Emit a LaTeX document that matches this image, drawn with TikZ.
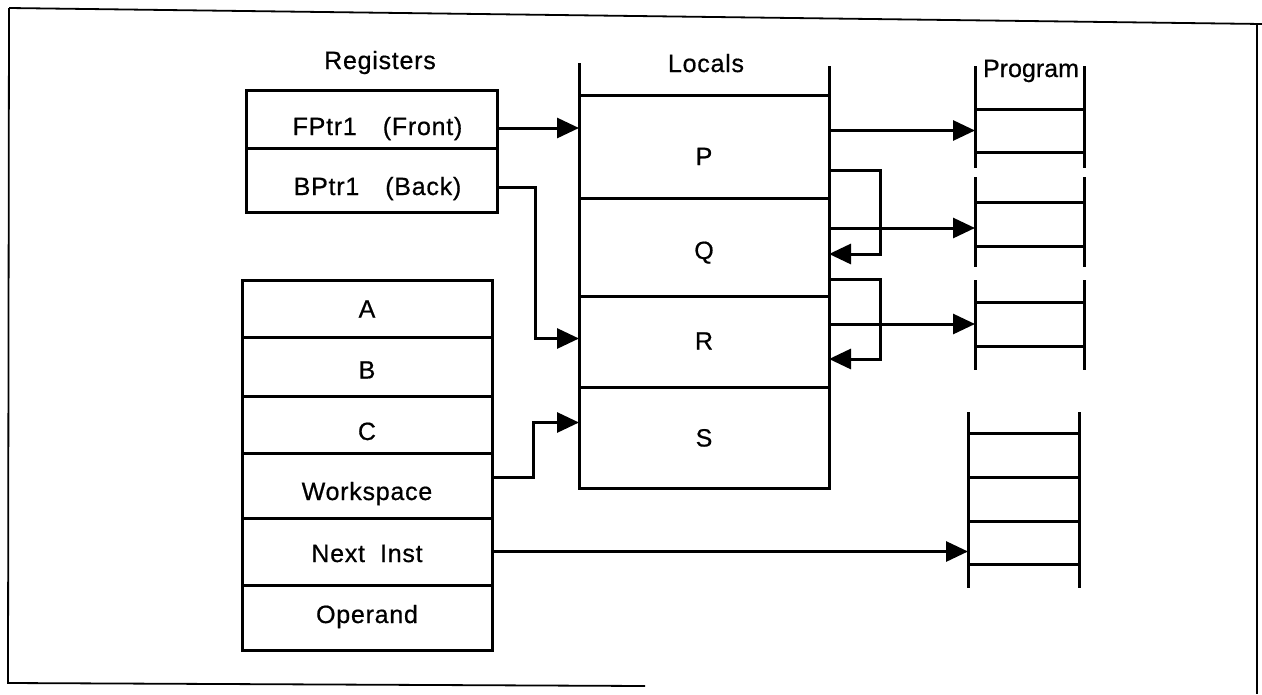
\documentclass[tikz,border=0pt]{standalone}
\usepackage{fontspec}
\setmainfont[FakeBold=0.6,LetterSpace=3]{Liberation Sans}
\usetikzlibrary{arrows.meta}
\begin{document}
\begin{tikzpicture}[x=1pt,y=-1pt,
  every node/.style={inner sep=0pt,outer sep=0pt,font=\fontsize{25}{29}\selectfont},
  cell/.style={draw,line width=3pt,minimum width=#1,text depth=0pt},
  ln/.style={line width=3pt},
  frameln/.style={line width=1.8pt},
  arr/.style={line width=3pt,-{Triangle[length=22pt,width=20pt]}}]
\useasboundingbox (0,0) rectangle (1262,694);
% frame
\draw[frameln] (9,8) -- (1262,24);
\draw[frameln] (9,8) -- (8,683) -- (645,686);
\draw[frameln] (1257,23) -- (1257,694);
% titles
\node[anchor=base] (reglbl) at (380,69) {Registers};
\node[anchor=base] (loclbl) at (706,72) {Locals};
\node[anchor=base,font=\fontsize{25}{29}\selectfont\addfontfeature{LetterSpace=0}] (proglbl) at (1031,77) {Program};
% registers
\node[cell=251,minimum height=58,text height=32pt] (fptr) at (371.5,119) {\hspace*{12pt}FPtr1\hspace{26pt}(Front)};
\node[cell=251,minimum height=64,text height=30pt] (bptr) at (371.5,180) {\hspace*{12pt}BPtr1\hspace{26pt}(Back)};
% lower stack
\node[cell=250,minimum height=57,text height=18pt] (ca) at (367,308.5) {A};
\node[cell=250,minimum height=59,text height=24pt] (cb) at (367,366.5) {B};
\node[cell=250,minimum height=57,text height=31pt] (cc) at (367,424.5) {C};
\node[cell=250,minimum height=65,text height=29pt] (ws) at (367,485.5) {Workspace};
\node[cell=250,minimum height=67,text height=21pt] (ni) at (367,551.5) {Next\hspace{15pt}Inst};
\node[cell=250,minimum height=65,text height=11pt] (op) at (367,617.5) {Operand};
% locals
\node[cell=250,minimum height=103,text height=37pt] (P) at (704,146.5) {P};
\node[cell=250,minimum height=98,text height=24pt] (Q) at (704,247) {Q};
\node[cell=250,minimum height=91,text height=16pt] (R) at (704,341.5) {R};
\node[cell=250,minimum height=101,text height=18pt] (S) at (704,437.5) {S};
\draw[ln] (P.north west) -- ++(0,-32);
\draw[ln] (P.north east) -- ++(0,-29);
% program groups
\node[cell=109,minimum height=43] (pg1) at (1029.5,130.5) {};
\draw[ln] (pg1.north west) -- ++(0,-43) (pg1.north east) -- ++(0,-43);
\draw[ln] (pg1.south west) -- ++(0,16) (pg1.south east) -- ++(0,16);
\node[cell=109,minimum height=44] (pg2) at (1029.5,224) {};
\draw[ln] (pg2.north west) -- ++(0,-25) (pg2.north east) -- ++(0,-25);
\draw[ln] (pg2.south west) -- ++(0,21) (pg2.south east) -- ++(0,21);
\node[cell=109,minimum height=44] (pg3) at (1029.5,324) {};
\draw[ln] (pg3.north west) -- ++(0,-22) (pg3.north east) -- ++(0,-22);
\draw[ln] (pg3.south west) -- ++(0,24) (pg3.south east) -- ++(0,24);
\node[cell=111,minimum height=44] (pg4a) at (1023.5,455) {};
\node[cell=111,minimum height=44] (pg4b) at (1023.5,499) {};
\node[cell=111,minimum height=43] (pg4c) at (1023.5,542.5) {};
\draw[ln] (pg4a.north west) -- ++(0,-21) (pg4a.north east) -- ++(0,-21);
\draw[ln] (pg4c.south west) -- ++(0,24) (pg4c.south east) -- ++(0,24);
% connectors
\draw[arr] ([yshift=-9pt]fptr.east) -- ([yshift=-9pt]fptr.east -| P.west);
\draw[arr] ([yshift=-7pt]bptr.east) -- (535,187) |- ([yshift=3pt]R.west);
\draw[arr] ([yshift=8pt]ws.east) -- (533,477.5) |- ([yshift=15pt]S.west);
\draw[arr] (ni.east) -- (ni.east -| pg4c.west);
\draw[arr] (P.east |- pg1.west) -- (pg1.west);
\draw[arr] (P.east |- 0,170) -- (880,170) |- (Q.east |- 0,254);
\draw[arr] (Q.east |- 0,228) -- (pg2.west |- 0,228);
\draw[arr] (Q.east |- 0,279) -- (880,279) |- (R.east |- 0,359);
\draw[arr] (R.east |- pg3.west) -- (pg3.west);
\end{tikzpicture}
\end{document}
